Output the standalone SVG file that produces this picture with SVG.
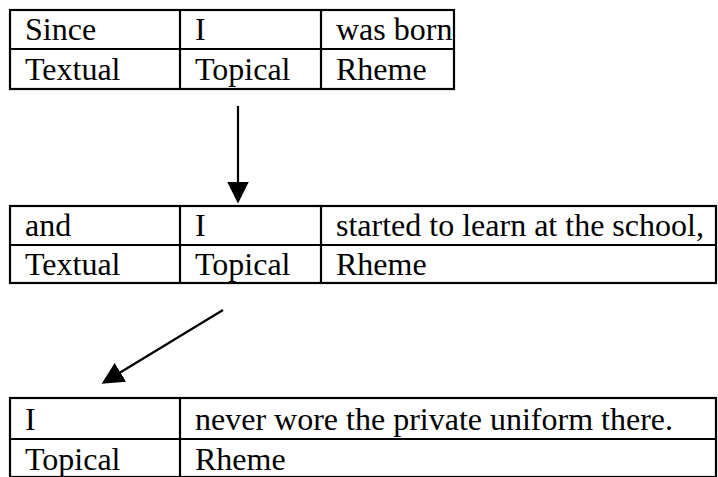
<svg xmlns="http://www.w3.org/2000/svg" width="718" height="477" viewBox="0 0 718 477">
  <style>
    .cell { fill: none; stroke: #000; stroke-width: 2.2; }
    .txt { font-family: 'Liberation Serif', 'Times New Roman', serif; font-size: 32px; fill: #000; }
    .conn { stroke: #000; stroke-width: 2.2; fill: none; }
  </style>
  <defs>
    <marker id="head" markerUnits="userSpaceOnUse" markerWidth="22" markerHeight="22" refX="10" refY="10.5" orient="auto" viewBox="0 0 21 21">
      <path d="M0,0 L21,10.5 L0,21 Z" fill="#000"/>
    </marker>
  </defs>
  <rect width="718" height="477" fill="#fff"/>

  <!-- Clause 1: Since / I / was born -->
  <g id="clause1">
    <rect class="cell" x="10" y="10" width="444" height="79"/>
    <line class="cell" x1="10" y1="49" x2="454" y2="49"/>
    <line class="cell" x1="180" y1="10" x2="180" y2="89"/>
    <line class="cell" x1="321" y1="10" x2="321" y2="89"/>
    <text class="txt" x="25" y="40">Since</text>
    <text class="txt" x="195" y="40">I</text>
    <text class="txt" x="336" y="40">was born</text>
    <text class="txt" x="25" y="80">Textual</text>
    <text class="txt" x="195" y="80">Topical</text>
    <text class="txt" x="336" y="80">Rheme</text>
  </g>

  <!-- Clause 2: and / I / started to learn ... -->
  <g id="clause2">
    <rect class="cell" x="10" y="206" width="706" height="77"/>
    <line class="cell" x1="10" y1="245" x2="716" y2="245"/>
    <line class="cell" x1="180" y1="206" x2="180" y2="283"/>
    <line class="cell" x1="321" y1="206" x2="321" y2="283"/>
    <text class="txt" x="25" y="236">and</text>
    <text class="txt" x="195" y="236">I</text>
    <text class="txt" x="336" y="236">started to learn at the school,</text>
    <text class="txt" x="25" y="275">Textual</text>
    <text class="txt" x="195" y="275">Topical</text>
    <text class="txt" x="336" y="275">Rheme</text>
  </g>

  <!-- Clause 3: I / never wore ... -->
  <g id="clause3">
    <rect class="cell" x="10" y="398" width="706" height="79"/>
    <line class="cell" x1="10" y1="439" x2="716" y2="439"/>
    <line class="cell" x1="180" y1="398" x2="180" y2="477"/>
    <text class="txt" x="25" y="430">I</text>
    <text class="txt" x="195" y="430">never wore the private uniform there.</text>
    <text class="txt" x="25" y="470">Topical</text>
    <text class="txt" x="195" y="470">Rheme</text>
  </g>

  <!-- Connectors between the clauses -->
  <g id="connectors">
    <line class="conn" x1="238" y1="106" x2="238" y2="192" marker-end="url(#head)"/>
    <line class="conn" x1="223" y1="310" x2="111.5" y2="377.8" marker-end="url(#head)"/>
  </g>
</svg>
